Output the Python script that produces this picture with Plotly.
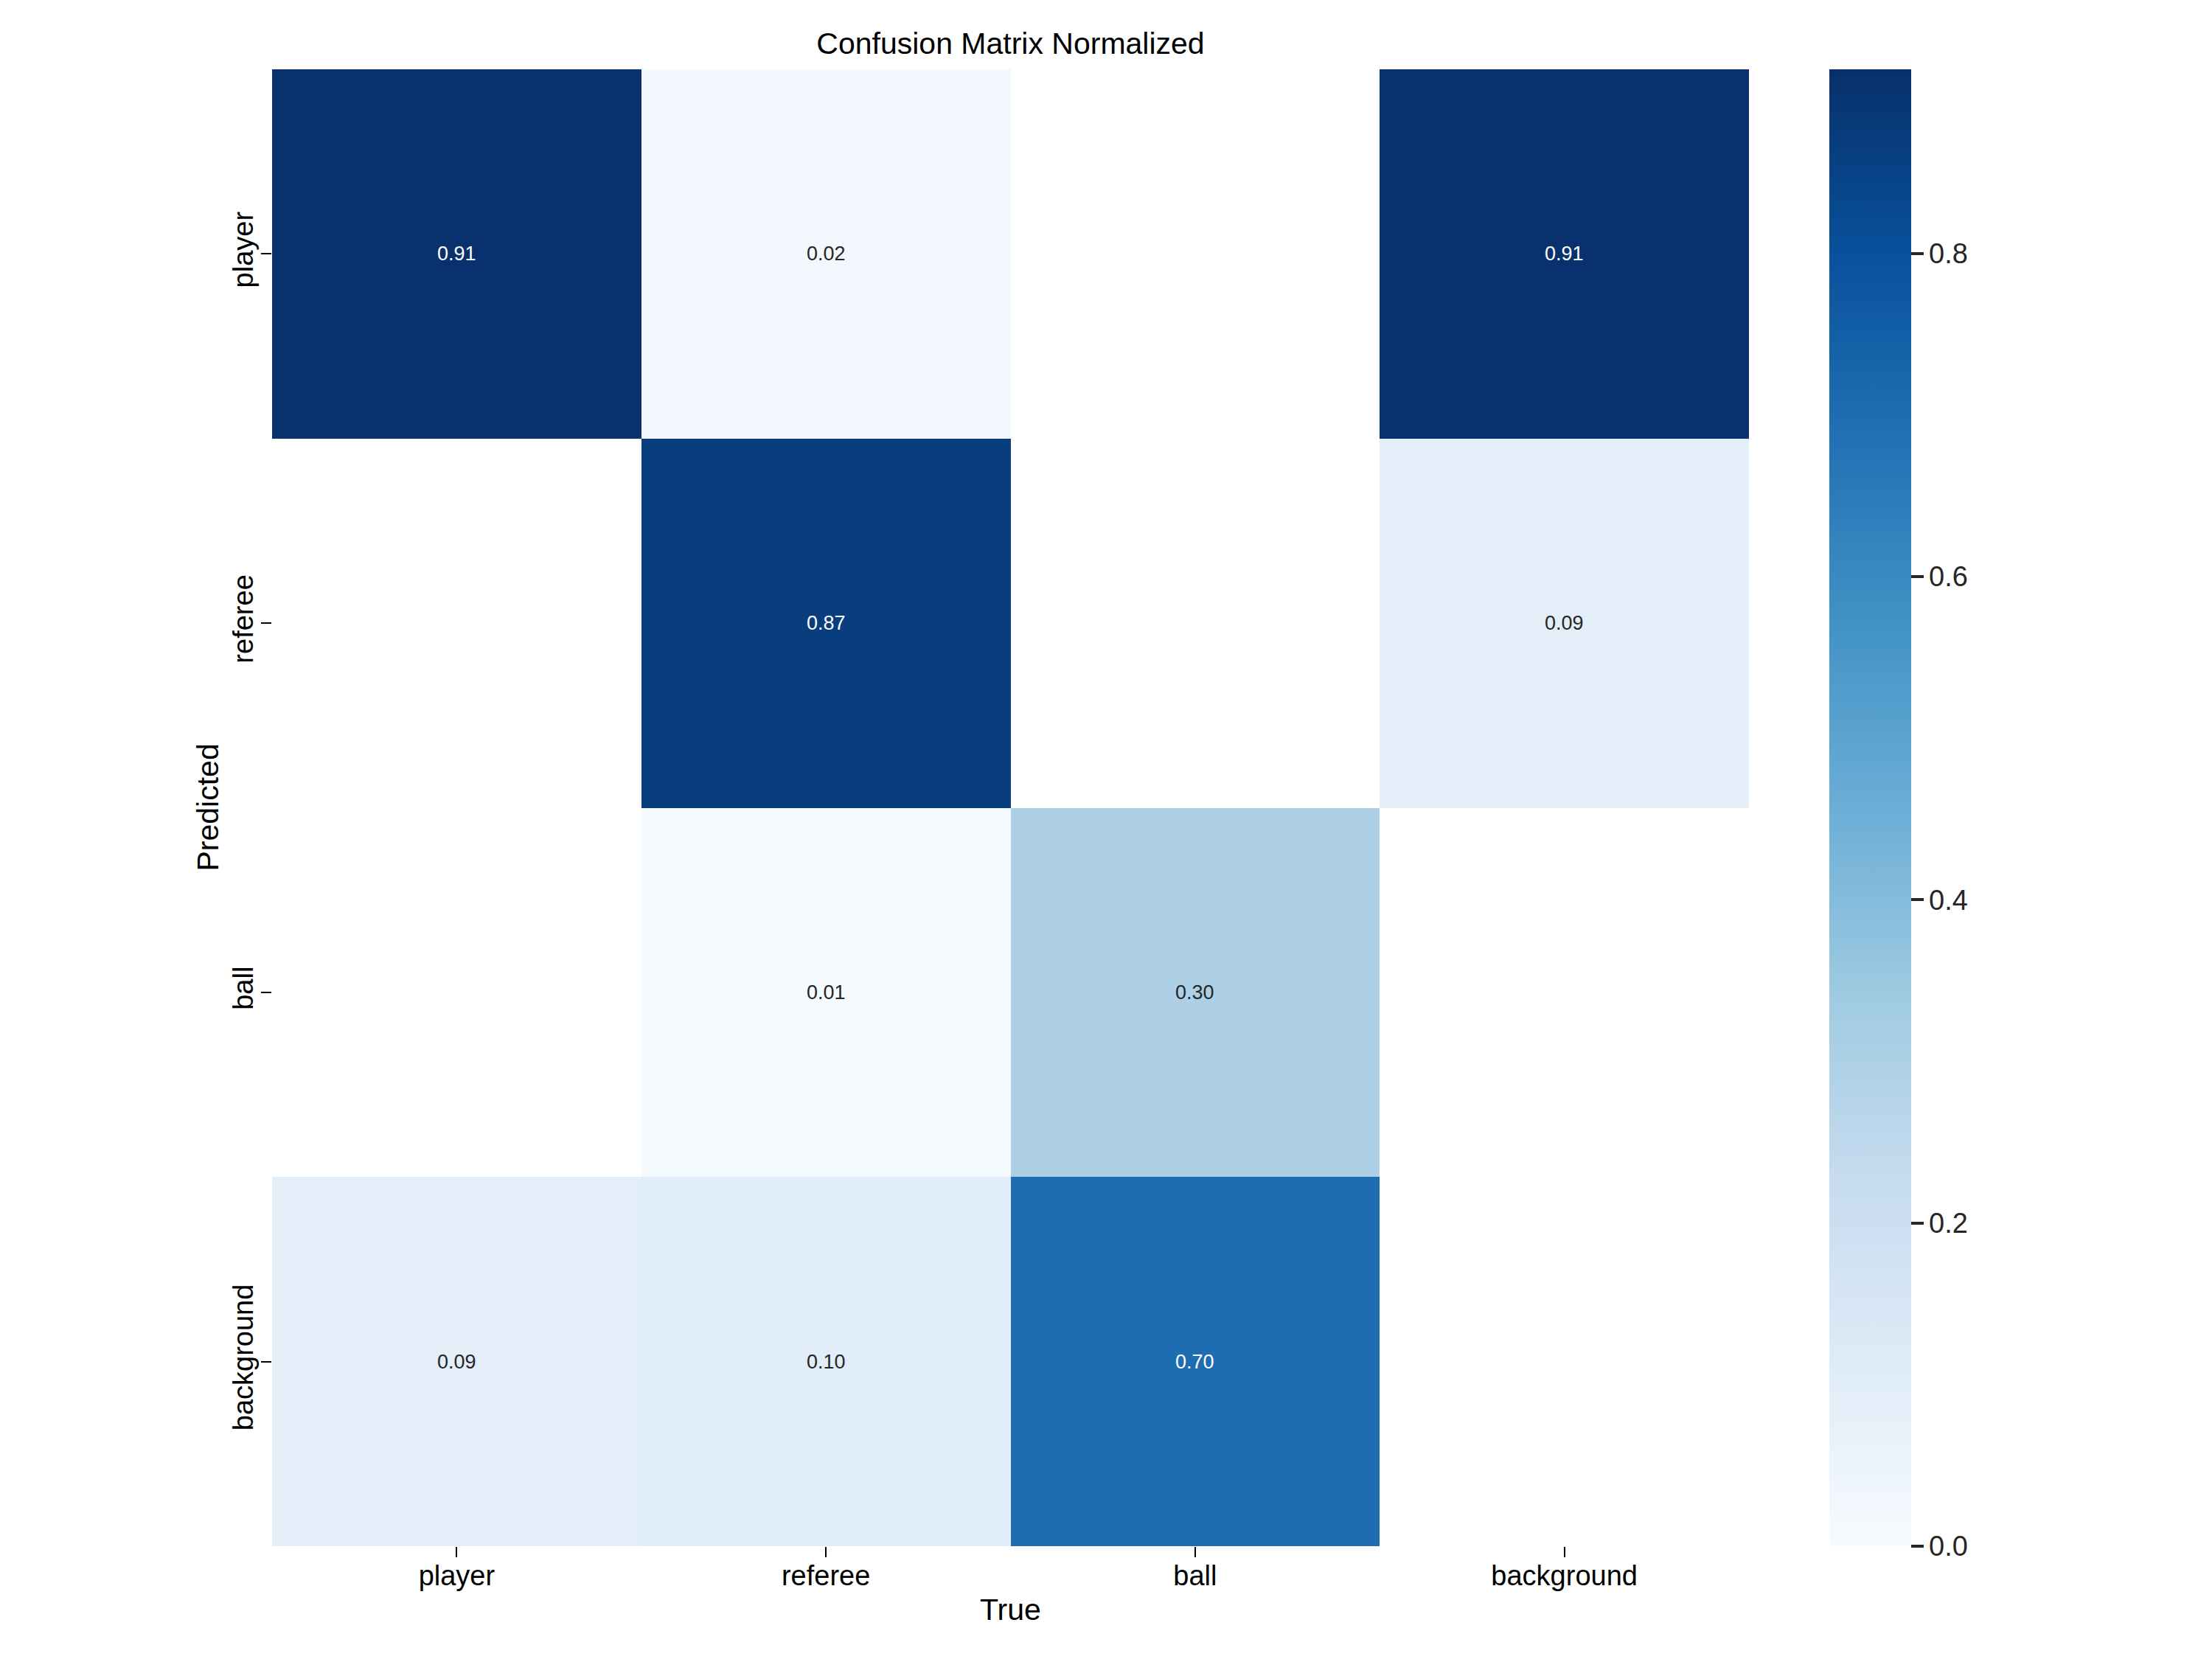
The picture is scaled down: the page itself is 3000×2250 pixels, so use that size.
import plotly.graph_objects as go

# ---- data ----
true_labels = ["player", "referee", "ball", "background"]
pred_labels = ["player", "referee", "ball", "background"]
row_player = [0.91, 0.02, None, 0.91]
row_referee = [None, 0.87, None, 0.09]
row_ball = [None, 0.01, 0.30, None]
row_background = [0.09, 0.10, 0.70, None]
cbar_ticks = [0.0, 0.2, 0.4, 0.6, 0.8]
colorbar_max = 0.914  # top of the colour bar

matrix = [row_player, row_referee, row_ball, row_background]

blues = ["#f7fbff", "#deebf7", "#c6dbef", "#9ecae1", "#6baed6",
         "#4292c6", "#2171b5", "#08519c", "#08306b"]
colorscale = [[i / (len(blues) - 1), c] for i, c in enumerate(blues)]

zmax = colorbar_max

W, H = 3000, 2250
OFF = 8  # page offset
L, R, T, B = 369 - OFF, 628 + OFF, 94 - OFF, 153 + OFF
plot_w = W - L - R
plot_h = H - T - B
font_fam = "Liberation Sans, Arial"

fig = go.Figure()
fig.add_trace(go.Heatmap(
    z=matrix, x=true_labels, y=pred_labels,
    colorscale=colorscale, zmin=0, zmax=zmax,
    xgap=0, ygap=0, hoverongaps=False,
    colorbar=dict(
        x=(2481 - 369) / plot_w, xanchor="left", xpad=0,
        y=0.5, yanchor="middle", ypad=0, len=1, lenmode="fraction",
        thickness=111, thicknessmode="pixels", outlinewidth=0,
        tickvals=cbar_ticks, tickformat=".1f", ticks="outside",
        ticklen=17, tickwidth=4, tickcolor="#262626",
        tickfont=dict(family=font_fam, size=38, color="#262626"),
    ),
))

annotations = []
for i, p in enumerate(pred_labels):
    for j, t in enumerate(true_labels):
        v = matrix[i][j]
        if v is None:
            continue
        color = "white" if v / zmax > 0.6 else "#262626"
        annotations.append(dict(
            x=t, y=p, xref="x", yref="y", text=f"{v:.2f}", showarrow=False,
            font=dict(family=font_fam, size=27, color=color),
        ))

# axis titles
annotations.append(dict(
    text="True", xref="paper", yref="paper", x=0.5, y=-(2183 - 2097) / plot_h,
    xanchor="center", yanchor="middle", showarrow=False,
    font=dict(family=font_fam, size=41, color="black"),
))
annotations.append(dict(
    text="Predicted", xref="paper", yref="paper", x=-(369 - 281) / plot_w, y=0.5,
    xanchor="center", yanchor="middle", showarrow=False, textangle=-90,
    font=dict(family=font_fam, size=41, color="black"),
))

fig.update_layout(
    width=W, height=H,
    margin=dict(l=L, r=R, t=T, b=B, pad=0),
    paper_bgcolor="white", plot_bgcolor="white",
    title=dict(text="Confusion Matrix Normalized", x=(L + plot_w / 2) / W, xanchor="center",
               xref="container", yref="container", y=1 - (59 - OFF) / H, yanchor="middle",
               font=dict(family=font_fam, size=41, color="black")),
    annotations=annotations,
    xaxis=dict(
        type="category", categoryorder="array", categoryarray=true_labels,
        showgrid=False, zeroline=False, showline=False,
        ticks="outside", ticklen=14, tickwidth=2, tickcolor="black",
        ticklabelstandoff=-8,
        tickfont=dict(family=font_fam, size=38, color="black"),
    ),
    yaxis=dict(
        type="category", categoryorder="array", categoryarray=pred_labels,
        autorange="reversed",
        showgrid=False, zeroline=False, showline=False,
        ticks="outside", ticklen=14, tickwidth=2, tickcolor="black", tickangle=-90,
        ticklabelstandoff=-4,
        tickfont=dict(family=font_fam, size=38, color="black"),
    ),
)

fig.write_html("out.html")
